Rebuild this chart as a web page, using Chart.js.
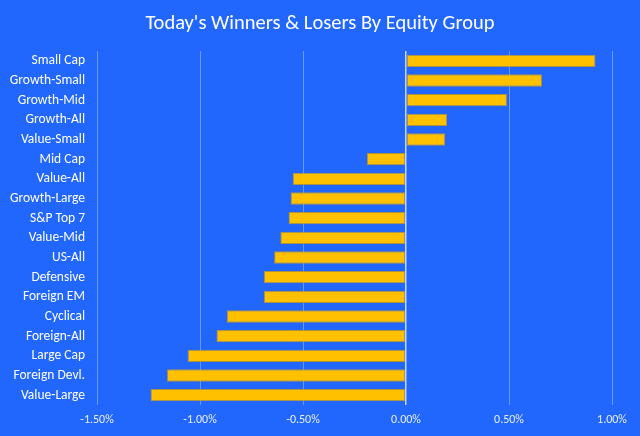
<!DOCTYPE html>
<html>
<head>
<meta charset="utf-8">
<script src="https://cdn.jsdelivr.net/npm/chart.js@4/dist/chart.umd.min.js"></script>
<style>
html,body{margin:0;padding:0;background:#2167FE;}
#wrap{width:640px;height:436px;position:relative;}
</style>
</head>
<body>
<div id="wrap"><canvas id="c" width="640" height="436"></canvas></div>
<script>
const categories = ["Small Cap","Growth-Small","Growth-Mid","Growth-All","Value-Small","Mid Cap","Value-All","Growth-Large","S&P Top 7","Value-Mid","US-All","Defensive","Foreign EM","Cyclical","Foreign-All","Large Cap","Foreign Devl.","Value-Large"];
const returnsPct = [0.92,0.66,0.49,0.20,0.19,-0.19,-0.55,-0.56,-0.57,-0.61,-0.64,-0.69,-0.69,-0.87,-0.92,-1.06,-1.16,-1.24];
const xTicks = [-1.5,-1.0,-0.5,0,0.5,1.0];
const titleText = "Today's Winners & Losers By Equity Group";

const FONT = "Carlito, Lato, 'Open Sans', sans-serif";

const bgPlugin = {
  id:'bg',
  beforeDraw(chart){
    const ctx = chart.ctx;
    ctx.save();
    ctx.fillStyle = '#2167FE';
    ctx.fillRect(0,0,chart.width,chart.height);
    ctx.restore();
  },
  afterDraw(chart){
    const ctx = chart.ctx;
    ctx.save();
    ctx.fillStyle = '#FFFFFF';
    ctx.font = "20.5px " + FONT;
    ctx.textAlign = 'center';
    ctx.textBaseline = 'alphabetic';
    ctx.fillText(titleText, chart.width/2, 29);
    ctx.restore();
  }
};

new Chart(document.getElementById('c'), {
  type:'bar',
  data:{
    labels:categories,
    datasets:[{
      data:returnsPct,
      backgroundColor:'#FFC000',
      borderColor:'rgba(190,150,40,0.9)',
      borderWidth:1,
      borderSkipped:false,
      barPercentage:0.63,
      categoryPercentage:1.0
    }]
  },
  options:{
    indexAxis:'y',
    responsive:false,
    animation:false,
    layout:{padding:{top:51,right:28,bottom:0,left:0}},
    plugins:{
      legend:{display:false},
      tooltip:{enabled:false},
      title:{display:false}
    },
    scales:{
      x:{
        type:'linear',
        min:-1.5,
        max:1.0,
        afterBuildTicks(scale){ scale.ticks = xTicks.map(v=>({value:v})); },
        afterFit(scale){ scale.height = 31; },
        ticks:{
          color:'#E8EEFF',
          font:{family:FONT,size:12},
          padding:8,
          callback:(v)=>v.toFixed(2)+'%'
        },
        grid:{
          color:(c)=> c.tick && c.tick.value===0 ? 'rgba(225,235,255,0.85)' : 'rgba(200,215,255,0.45)',
          lineWidth:(c)=> c.tick && c.tick.value===0 ? 1.5 : 1,
          drawTicks:false
        },
        border:{display:false}
      },
      y:{
        afterFit(scale){ scale.width = 97; },
        ticks:{
          color:'#FFFFFF',
          font:{family:FONT,size:13.5},
          padding:12
        },
        grid:{display:false,drawTicks:false},
        border:{display:false}
      }
    }
  },
  plugins:[bgPlugin]
});
</script>
</body>
</html>
